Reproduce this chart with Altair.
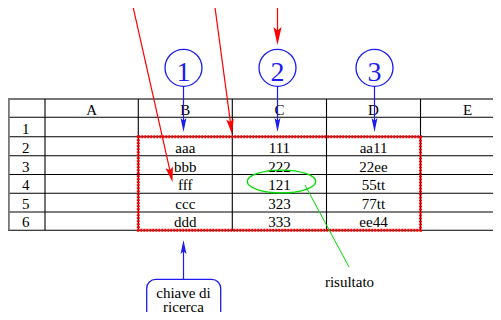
import math
import altair as alt
import pandas as pd

# ---------------- data ----------------
col_labels = ["A", "B", "C", "D", "E"]
row_labels = ["1", "2", "3", "4", "5", "6"]
col_b = ["aaa", "bbb", "fff", "ccc", "ddd"]
col_c = ["111", "222", "121", "323", "333"]
col_d = ["aa11", "22ee", "55tt", "77tt", "ee44"]
circle_labels = ["1", "2", "3"]
key_label = ["chiave di", "ricerca"]
result_label = "risultato"

# ---------------- layout grid (picture pixel units) ----------------
col_edges = [6.7, 45.0, 138.3, 232.3, 326.5, 420.5, 514.5]
row_edges = [99.0, 117.3, 136.7, 155.7, 174.5, 193.3, 212.0, 230.3]

BLUE = "#1c1cf0"
RED = "#ff0000"
GREEN = "#00dc00"
FONT = "Liberation Serif"

W, H = 485, 304
xs = alt.Scale(domain=[8, 8 + W], nice=False, zero=False)
ys = alt.Scale(domain=[8, 8 + H], nice=False, zero=False, reverse=True)


def X(f):
    return alt.X(f, type="quantitative", scale=xs, axis=None)


def Y(f):
    return alt.Y(f, type="quantitative", scale=ys, axis=None)


def ccenter(i):
    return (col_edges[i] + col_edges[i + 1]) / 2


# grid lines
hl = pd.DataFrame({
    "y": row_edges,
    "x": [col_edges[0]] * len(row_edges),
    "x2": [col_edges[-1]] * len(row_edges),
    "c": ["#777777"] + ["#000000"] * (len(row_edges) - 1),
    "w": [2.0] + [1.1] * (len(row_edges) - 1),
})
vx = [8.8] + col_edges[1:-1]
vl = pd.DataFrame({
    "x": vx,
    "y": [row_edges[0]] * len(vx),
    "y2": [row_edges[-1]] * len(vx),
    "c": ["#777777"] + ["#000000"] * (len(vx) - 1),
    "w": [2.0] + [1.1] * (len(vx) - 1),
})
hlines = alt.Chart(hl).mark_rule().encode(
    x=X("x"), x2="x2", y=Y("y"),
    color=alt.Color("c:N", scale=None), strokeWidth=alt.StrokeWidth("w:Q", scale=None))
vlines = alt.Chart(vl).mark_rule().encode(
    x=X("x"), y=Y("y"), y2="y2",
    color=alt.Color("c:N", scale=None), strokeWidth=alt.StrokeWidth("w:Q", scale=None))

# table texts
texts = []
for i, lab in enumerate(col_labels):
    texts.append({"x": ccenter(i + 1), "y": row_edges[1] - 2.5, "t": lab})
for r, lab in enumerate(row_labels):
    texts.append({"x": ccenter(0), "y": row_edges[r + 2] - 3, "t": lab})
for col_i, vals in [(2, col_b), (3, col_c), (4, col_d)]:
    for r, v in enumerate(vals):
        texts.append({"x": ccenter(col_i), "y": row_edges[r + 3] - 3, "t": v})
tdf = pd.DataFrame(texts)
table_text = alt.Chart(tdf).mark_text(
    font=FONT, fontSize=15, baseline="alphabetic", align="center", color="#000000"
).encode(x=X("x"), y=Y("y"), text="t:N")

# red dashed range
rng = pd.DataFrame({"x": [col_edges[2]], "x2": [col_edges[5]],
                    "y": [row_edges[2]], "y2": [row_edges[-1]]})
range_rect = alt.Chart(rng).mark_rect(
    fillOpacity=0, stroke=RED, strokeWidth=3, strokeDash=[2, 1]
).encode(x=X("x"), x2="x2", y=Y("y"), y2="y2")

# numbered circles
circ_x = [183.5, 277.5, 374.5]
cdf = pd.DataFrame({"x": circ_x, "y": [67.8] * 3, "t": circle_labels,
                    "yb": [81.0] * 3})
circles = alt.Chart(cdf).mark_point(
    shape="circle", size=1369, filled=False, color=BLUE, strokeWidth=1.3, opacity=1
).encode(x=X("x"), y=Y("y"))
circle_text = alt.Chart(cdf).mark_text(
    font=FONT, fontSize=28, baseline="alphabetic", align="center", color=BLUE
).encode(x=X("x"), y=Y("yb"), text="t:N")

# arrows: start, tip, colour, head length, head half-width (unit)
arrows = [
    (131.5, 0.0, 172.5, 182.0, RED, 15, 0.5),
    (214.0, 0.0, 232.0, 134.0, RED, 15, 0.5),
    (277.5, 0.0, 277.5, 45.0, RED, 18, 0.45),
    (183.5, 86.5, 183.5, 132.0, BLUE, 14, 0.42),
    (277.5, 86.5, 277.5, 132.0, BLUE, 14, 0.42),
    (374.5, 86.5, 374.5, 132.0, BLUE, 14, 0.42),
    (183.5, 279.0, 183.5, 240.0, BLUE, 14, 0.42),
]
lines, heads = [], []
for sx, sy, tx, ty, col, L, hw in arrows:
    dx, dy = tx - sx, ty - sy
    d = math.hypot(dx, dy)
    ux, uy = dx / d, dy / d
    lines.append({"x": sx, "y": sy, "x2": tx - ux * L * 0.6, "y2": ty - uy * L * 0.6,
                  "c": col, "w": 1.2})
    ang = (-math.degrees(math.atan2(dx, dy))) % 360
    shape = f"M0,1L-{hw},-1L0,-0.6L{hw},-1Z"
    heads.append({"x": tx - ux * L / 2, "y": ty - uy * L / 2, "c": col,
                  "a": ang, "s": L * L, "sh": shape})
# green pointer line
lines.append({"x": 305.0, "y": 185.0, "x2": 349.0, "y2": 267.0, "c": GREEN, "w": 1.0})
ldf = pd.DataFrame(lines)
hdf = pd.DataFrame(heads)
arrow_lines = alt.Chart(ldf).mark_rule().encode(
    x=X("x"), y=Y("y"), x2="x2", y2="y2",
    color=alt.Color("c:N", scale=None), strokeWidth=alt.StrokeWidth("w:Q", scale=None))
arrow_heads = alt.Chart(hdf).mark_point(filled=True, opacity=1, strokeWidth=0).encode(
    x=X("x"), y=Y("y"),
    color=alt.Color("c:N", scale=None),
    angle=alt.Angle("a:Q", scale=None),
    size=alt.Size("s:Q", scale=None),
    shape=alt.Shape("sh:N", scale=None))

# green ellipse around result
k = 0.184
ell_path = (f"M-1,0C-1,-{k},-0.552,-0.333,0,-0.333C0.552,-0.333,1,-{k},1,0"
            f"C1,{k},0.552,0.333,0,0.333C-0.552,0.333,-1,{k},-1,0Z")
edf = pd.DataFrame({"x": [281.5], "y": [181.5]})
ellipse = alt.Chart(edf).mark_point(
    shape=ell_path, size=68.4 ** 2, filled=False, color=GREEN, strokeWidth=1.4, opacity=1
).encode(x=X("x"), y=Y("y"))

# key box
bdf = pd.DataFrame({"x": [146.7], "x2": [220.7], "y": [279.3], "y2": [332.0]})
key_box = alt.Chart(bdf).mark_rect(
    fill="white", stroke=BLUE, strokeWidth=1.3, cornerRadius=9
).encode(x=X("x"), x2="x2", y=Y("y"), y2="y2")

adf = pd.DataFrame({
    "x": [183.5, 183.5, 349.5],
    "y": [298.0, 312.3, 286.5],
    "t": key_label + [result_label],
})
ann_text = alt.Chart(adf).mark_text(
    font=FONT, fontSize=15, baseline="alphabetic", align="center", color="#000000"
).encode(x=X("x"), y=Y("y"), text="t:N")

chart = alt.layer(
    hlines, vlines, table_text, range_rect, ellipse, arrow_lines, arrow_heads,
    circles, circle_text, key_box, ann_text
).properties(width=W, height=H, padding=0, background="white",
             autosize=alt.AutoSizeParams(type="none")
).configure_view(stroke=None)

chart.save("out.html", embed_options={"renderer": "svg", "actions": False})
